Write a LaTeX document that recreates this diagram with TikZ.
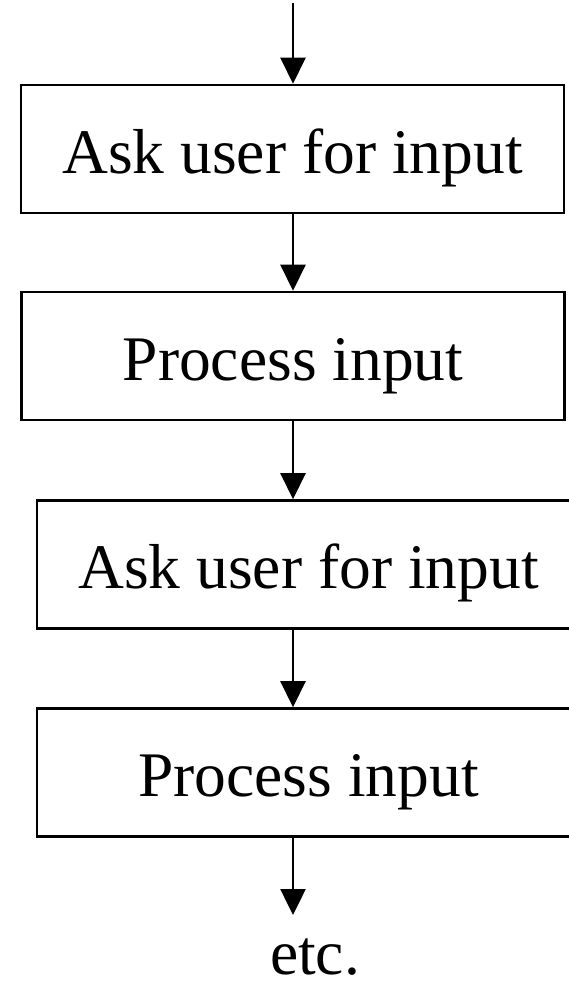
\documentclass[tikz,border=0pt]{standalone}
\usepackage{fontspec}
\setmainfont{Liberation Serif}
\usetikzlibrary{arrows.meta}
\begin{document}
\begin{tikzpicture}[x=1pt,y=1pt,
  box/.style={draw=black, line width=2.6pt, rectangle, minimum width=543pt, minimum height=128pt,
    inner sep=0pt, text height=48pt, text depth=0pt, font=\fontsize{63.5}{76}\selectfont},
  arr/.style={draw=black, line width=2.5pt, -{Triangle[length=26pt,width=25pt]}},
  lbl/.style={inner sep=0pt, anchor=base, font=\fontsize{63.5}{76}\selectfont}]
\useasboundingbox (0,0) rectangle (569,-982);
\fill[white] (0,0) rectangle (569,-982);
\coordinate (start) at (293,-3);
\coordinate (ax) at (293,0);
\node[box] (b1) at (292.5,-149) {Ask user for input};
\node[box] (b2) at (293,-356) {Process input};
\node[box] (b3) at (308.5,-564.5) {Ask user for input};
\node[box] (b4) at (308.5,-772.5) {Process input};
\node[lbl] (etc) at (315,-974) {etc.};
\coordinate (etcTop) at (293,-915);
\draw[arr] (start) -- (b1.north -| ax);
\draw[arr] (b1.south -| ax) -- (b2.north -| ax);
\draw[arr] (b2.south -| ax) -- (b3.north -| ax);
\draw[arr] (b3.south -| ax) -- (b4.north -| ax);
\draw[arr] (b4.south -| ax) -- (etcTop);
\end{tikzpicture}
\end{document}
